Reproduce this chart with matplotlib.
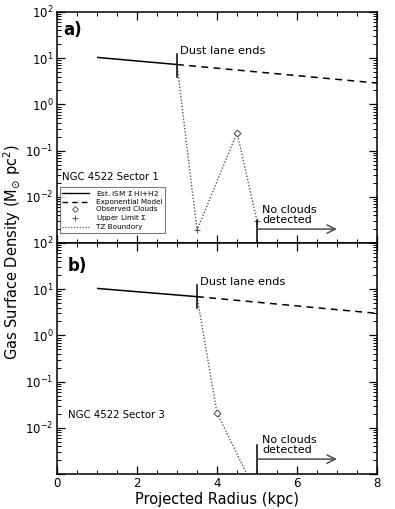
import numpy as np
import matplotlib
matplotlib.use('Agg')
import matplotlib.pyplot as plt
from matplotlib.lines import Line2D
from matplotlib.ticker import LogLocator, NullFormatter, MultipleLocator

plt.rcParams['font.family'] = ['DejaVu Sans']
plt.rcParams['mathtext.fontset'] = 'dejavusans'

# panel a) sector 1
a_ism_r = [1.0, 3.0]
a_ism_s = [10.4, 7.3]
a_exp_r = [3.0, 8.0]
a_exp_s = [7.3, 2.9]
a_tz_r = [3.0, 3.5, 4.5, 5.0]
a_tz_s = [7.3, 0.0019, 0.245, 0.003]
a_cloud_r = [4.5]
a_cloud_s = [0.245]
a_upper_r = [3.5, 5.0]
a_upper_s = [0.0019, 0.003]
a_dust_r = 3.0

# panel b) sector 3
b_ism_r = [1.0, 3.5]
b_ism_s = [10.4, 6.9]
b_exp_r = [3.5, 8.0]
b_exp_s = [6.9, 3.0]
b_tz_r = [3.5, 4.0, 4.8]
b_tz_s = [6.9, 0.021, 0.0008]
b_cloud_r = [4.0]
b_cloud_s = [0.021]
b_dust_r = 3.5

noclouds_r = 5.0
arrow_end_r = 7.0

ytick_vals = [1e-3, 1e-2, 1e-1, 1, 10, 100]
ytick_labels = ['', r'$10^{-2}$', r'$10^{-1}$', r'$10^{0}$', r'$10^{1}$', r'$10^{2}$']

fig = plt.figure(figsize=[3.95, 5.09], dpi=100)
W, H = 395, 509
x0, x1 = 57 / W, 377 / W
ax1 = fig.add_axes([x0, 1 - 243 / H, x1 - x0, 231 / H])
ax2 = fig.add_axes([x0, 1 - 474 / H, x1 - x0, 231 / H])


def panel(ax, ism_r, ism_s, exp_r, exp_s, tz_r, tz_s, cl_r, cl_s, dust_r,
          up_r, up_s, nc_top, nc_arrow, nc_text):
    ax.set_yscale('log')
    ax.set_xlim(0, 8)
    ax.set_ylim(1e-3, 1e2)
    ax.plot(ism_r, ism_s, color='black', lw=1.1, solid_capstyle='butt')
    ax.plot(exp_r, exp_s, color='black', lw=1.1, ls=(0, (4.5, 3.5)))
    ax.plot(tz_r, tz_s, color='0.35', lw=1.0, ls=(0, (1, 1.3)))
    ax.plot(cl_r, cl_s, ls='none', marker='D', ms=3.5, mfc='white', mec='0.35', mew=0.8)
    if up_r:
        ax.plot(up_r, up_s, ls='none', marker='+', ms=4, mec='0.35', mew=0.8)
    # dust lane marker
    ax.plot([dust_r, dust_r], [4.0, 12.5], color='black', lw=1.1)
    ax.text(dust_r + 0.07, 14.0, 'Dust lane ends', fontsize=8.2, ha='left', va='center')
    # no clouds marker
    ax.plot([noclouds_r, noclouds_r], [1e-3, nc_top], color='black', lw=1.1)
    ax.annotate('', xy=(arrow_end_r, nc_arrow), xytext=(noclouds_r, nc_arrow),
                arrowprops=dict(arrowstyle='->,head_length=0.6,head_width=0.3',
                                color='0.3', lw=1.1, shrinkA=0, shrinkB=0))
    ax.text(noclouds_r + 0.13, nc_text, 'No clouds\ndetected', fontsize=8,
            ha='left', va='bottom', linespacing=1.0)

    ax.set_yticks(ytick_vals)
    ax.set_yticklabels(ytick_labels)
    ax.yaxis.set_minor_locator(LogLocator(base=10, subs=np.arange(2, 10), numticks=20))
    ax.yaxis.set_minor_formatter(NullFormatter())
    ax.xaxis.set_major_locator(MultipleLocator(2))
    ax.xaxis.set_minor_locator(MultipleLocator(0.5))
    ax.tick_params(which='both', direction='in', top=True, right=True, labelsize=8.5)
    ax.tick_params(which='major', length=6, width=0.9, pad=2.5)
    ax.tick_params(which='minor', length=3, width=0.7)
    for s in ax.spines.values():
        s.set_linewidth(1.1)


panel(ax1, a_ism_r, a_ism_s, a_exp_r, a_exp_s, a_tz_r, a_tz_s, a_cloud_r, a_cloud_s,
      a_dust_r, a_upper_r, a_upper_s, 0.003, 0.002, 0.0024)
panel(ax2, b_ism_r, b_ism_s, b_exp_r, b_exp_s, b_tz_r, b_tz_s, b_cloud_r, b_cloud_s,
      b_dust_r, [], [], 0.0043, 0.0021, 0.0026)
ax1.tick_params(labelbottom=False)

ax1.text(0.02, 0.92, 'a)', transform=ax1.transAxes, fontsize=12, fontweight='bold',
         ha='left', va='center')
ax2.text(0.034, 0.90, 'b)', transform=ax2.transAxes, fontsize=12, fontweight='bold',
         ha='left', va='center')
ax1.text(0.016, 0.285, 'NGC 4522 Sector 1', transform=ax1.transAxes, fontsize=7.3,
         ha='left', va='center')
ax2.text(0.034, 0.255, 'NGC 4522 Sector 3', transform=ax2.transAxes, fontsize=7.3,
         ha='left', va='center')

handles = [
    Line2D([], [], color='black', lw=1.0),
    Line2D([], [], color='black', lw=1.0, ls=(0, (4, 3))),
    Line2D([], [], ls='none', marker='D', ms=3, mfc='white', mec='0.35', mew=0.7),
    Line2D([], [], ls='none', marker='+', ms=4, mec='0.35', mew=0.7),
    Line2D([], [], color='0.35', lw=0.9, ls=(0, (1, 1.3))),
]
labels = [r'Est. ISM $\Sigma$ HI+H2', 'Exponential Model', 'Observed Clouds',
          r'Upper Limit $\Sigma$', 'TZ Boundory']
leg = ax1.legend(handles, labels, loc='lower left', bbox_to_anchor=(0.008, 0.045),
                 fontsize=5.2, frameon=True, fancybox=False, edgecolor='0.35',
                 handlelength=3.8, handletextpad=1.0, borderpad=0.3, labelspacing=0.15,
                 borderaxespad=0)
leg.get_frame().set_linewidth(0.8)

ax2.set_xlabel('Projected Radius (kpc)', fontsize=10.5, labelpad=1)
fig.text(12 / W, 1 - 252 / H, r'Gas Surface Density (M$_{\odot}$ pc$^{2}$)',
         rotation=90, fontsize=10.5, ha='center', va='center')

fig.savefig('out.png', dpi=100)
